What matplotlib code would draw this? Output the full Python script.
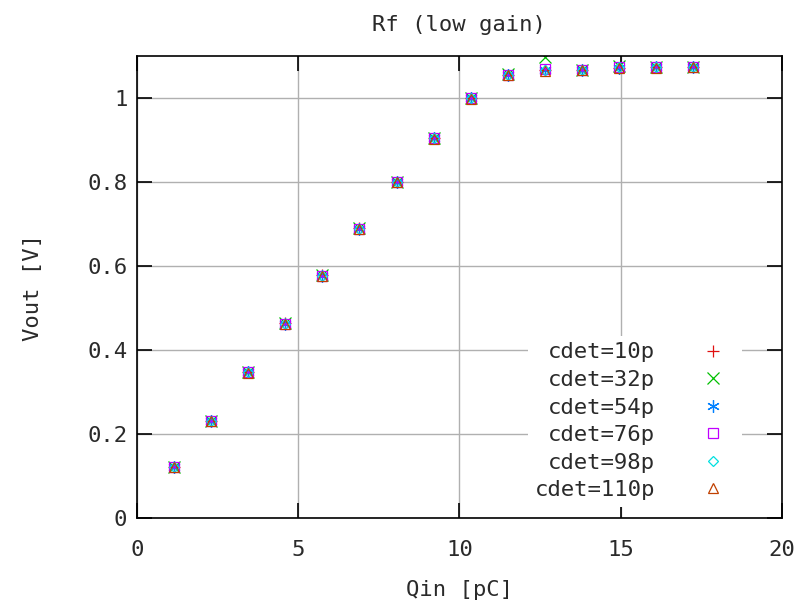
import numpy as np
import matplotlib
matplotlib.use("Agg")
import matplotlib.pyplot as plt
from matplotlib.ticker import FormatStrFormatter

# charge injected [pC]
qin = [1.15, 2.3, 3.45, 4.6, 5.75, 6.9, 8.05, 9.2, 10.35, 11.5,
       12.65, 13.8, 14.95, 16.1, 17.25]

# output voltage [V] per detector capacitance
vout_10p = [0.122, 0.232, 0.348, 0.464, 0.578, 0.690, 0.801, 0.905, 1.0,
            1.056, 1.066, 1.068, 1.072, 1.073, 1.074]
vout_32p = [0.122, 0.232, 0.348, 0.464, 0.578, 0.690, 0.801, 0.905, 1.0,
            1.058, 1.098, 1.068, 1.076, 1.075, 1.075]
vout_54p = [0.122, 0.232, 0.347, 0.463, 0.577, 0.689, 0.800, 0.905, 0.999,
            1.056, 1.066, 1.068, 1.072, 1.073, 1.074]
vout_76p = [0.122, 0.232, 0.347, 0.463, 0.577, 0.689, 0.800, 0.905, 0.999,
            1.056, 1.070, 1.068, 1.074, 1.074, 1.074]
vout_98p = [0.122, 0.232, 0.347, 0.463, 0.577, 0.689, 0.800, 0.904, 0.999,
            1.055, 1.068, 1.068, 1.074, 1.074, 1.074]
vout_110p = [0.121, 0.231, 0.346, 0.462, 0.576, 0.688, 0.799, 0.903, 0.998,
             1.054, 1.064, 1.067, 1.071, 1.072, 1.073]

labels = ["cdet=10p", "cdet=32p", "cdet=54p", "cdet=76p", "cdet=98p", "cdet=110p"]
colors = ["#e01010", "#00c000", "#0080ff", "#c000ff", "#00e0e0", "#c04000"]
asterisk = (6, 2, 0)
markers = ["+", "x", asterisk, "s", "D", "^"]
sizes = [9, 9, 9, 7, 5, 7]

FONT = "DejaVu Sans Mono"
TXT = "#2a2a2a"
FS = 16

fig = plt.figure(figsize=(8.05, 6.03), dpi=100)
ax = fig.add_axes([0.1702, 0.141, 0.801, 0.766])

series = [vout_10p, vout_32p, vout_54p, vout_76p, vout_98p, vout_110p]
for vals, lab, c, m, s in zip(series, labels, colors, markers, sizes):
    if m in ("s", "D", "^"):
        ax.plot(qin, vals, linestyle="none", marker=m, markersize=s,
                markerfacecolor="none", markeredgecolor=c, markeredgewidth=0.9,
                label=lab)
    else:
        ax.plot(qin, vals, linestyle="none", marker=m, markersize=s,
                color=c, markeredgewidth=0.9, label=lab)
# center dots of the squares
ax.plot(qin, vout_76p, linestyle="none", marker=".", markersize=2,
        color=colors[3])

ax.set_xlim(0, 20)
ax.set_ylim(0, 1.1)
ax.set_xticks([0, 5, 10, 15, 20])
ax.set_yticks([0, 0.2, 0.4, 0.6, 0.8, 1.0])
ax.yaxis.set_major_formatter(FormatStrFormatter("%g"))
ax.grid(True, color="#b0b0b0", linewidth=1.0)
ax.set_axisbelow(True)
ax.tick_params(direction="in", length=11, width=1.2, top=True, right=True,
               labelsize=FS, colors="black", labelcolor=TXT)
ax.tick_params(axis="x", pad=16)
ax.tick_params(axis="y", pad=7)
for lbl in ax.get_xticklabels() + ax.get_yticklabels():
    lbl.set_family(FONT)
for sp in ax.spines.values():
    sp.set_linewidth(1.2)

ax.set_title("Rf (low gain)", family=FONT, fontsize=FS, color=TXT, pad=18)
ax.set_xlabel("Qin [pC]", family=FONT, fontsize=FS, color=TXT, labelpad=14)
ax.set_ylabel("Vout [V]", family=FONT, fontsize=FS, color=TXT, labelpad=32)

leg = ax.legend(loc="lower right", bbox_to_anchor=(0.955, 0.0),
                markerfirst=False, alignment="right", frameon=True,
                facecolor="white", edgecolor="none", framealpha=1.0,
                prop={"family": FONT, "size": FS}, labelspacing=0.34,
                handlelength=2.0, handletextpad=1.6, borderpad=0.3)
for t in leg.get_texts():
    t.set_color(TXT)

fig.savefig("out.png", dpi=100, facecolor="white")
